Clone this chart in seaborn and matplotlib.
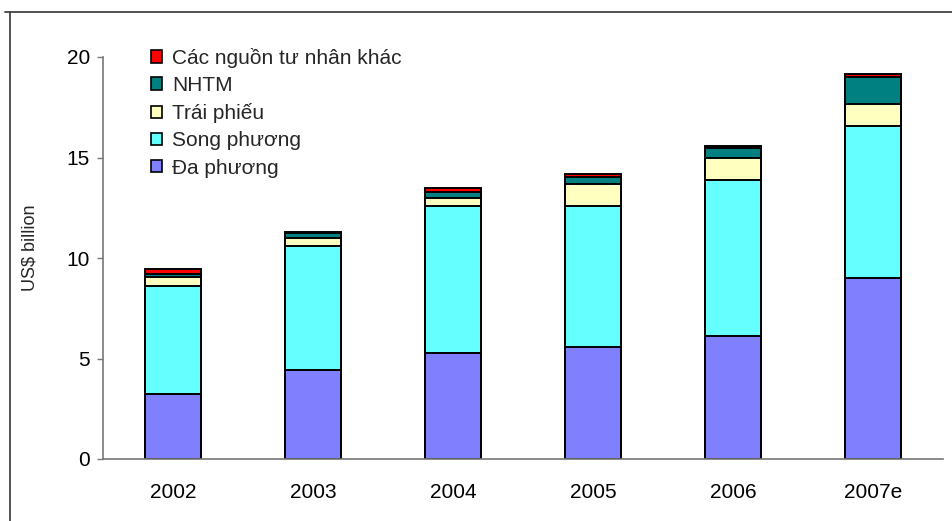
import matplotlib
matplotlib.use("Agg")
import matplotlib.pyplot as plt
from matplotlib.patches import Patch
from matplotlib.lines import Line2D
import seaborn as sns
import pandas as pd
import numpy as np

years = ["2002", "2003", "2004", "2005", "2006", "2007e"]
da_phuong = [3.25, 4.45, 5.27, 5.57, 6.12, 9.00]
song_phuong = [5.35, 6.15, 7.33, 7.03, 7.76, 7.57]
trai_phieu = [0.45, 0.40, 0.40, 1.10, 1.09, 1.09]
nhtm = [0.15, 0.25, 0.30, 0.33, 0.50, 1.34]
khac = [0.25, 0.05, 0.20, 0.17, 0.10, 0.15]

series_names = ["Đa phương", "Song phương", "Trái phiếu", "NHTM", "Các nguồn tư nhân khác"]
series_vals = [da_phuong, song_phuong, trai_phieu, nhtm, khac]
colors = ["#8080FF", "#66FFFF", "#FFFFC0", "#008080", "#FF0000"]

sns.set_theme(style="white")
plt.rcParams["font.family"] = ["Liberation Sans", "DejaVu Sans"]

fig = plt.figure(figsize=(9.53, 5.21), dpi=100)
ax = fig.add_axes([103/953, 1 - 459/521, 840/953, (459 - 57)/521])

cum = np.cumsum(np.array(series_vals), axis=0)
# draw tallest cumulative layer first so lower layers overlay
for i in range(len(series_names) - 1, -1, -1):
    df = pd.DataFrame({"year": years, "value": cum[i]})
    sns.barplot(data=df, x="year", y="value", color=colors[i], width=0.4,
                edgecolor="black", linewidth=1.4, saturation=1, ax=ax, zorder=2)

ax.set_xlim(-0.5, 5.5)
ax.set_ylim(0, 20)
ax.set_yticks([0, 5, 10, 15, 20])
ax.set_xlabel("")
ax.set_ylabel("US$ billion", fontsize=13)
ax.yaxis.set_label_coords(-0.077, 0.525)
for s in ["top", "right"]:
    ax.spines[s].set_visible(False)
for s in ["left", "bottom"]:
    ax.spines[s].set_color("#777777")
    ax.spines[s].set_linewidth(1.2)
ax.tick_params(axis="y", left=True, length=4.5, width=1, color="#777777", pad=5, labelsize=15, labelcolor="black")
ax.tick_params(axis="x", bottom=False, length=0, pad=17, labelsize=15, labelcolor="black")

handles = [Patch(facecolor=colors[i], edgecolor="black", linewidth=1.2, label=series_names[i])
           for i in range(len(series_names) - 1, -1, -1)]
ax.legend(handles=handles, loc="upper left", bbox_to_anchor=(151/953, 1 - 48/521),
          bbox_transform=fig.transFigure, frameon=False, fontsize=15,
          handlelength=0.55, handleheight=0.55, handletextpad=0.45, labelspacing=0.39,
          borderaxespad=0, borderpad=0)

# outer frame lines (left and top)
fig.add_artist(Line2D([10/953, 10/953], [0, 1 - 12/521], transform=fig.transFigure, color="#444444", lw=1.3))
fig.add_artist(Line2D([5/953, 1], [1 - 12/521, 1 - 12/521], transform=fig.transFigure, color="#444444", lw=1.3))

fig.savefig("out.png", dpi=100)
